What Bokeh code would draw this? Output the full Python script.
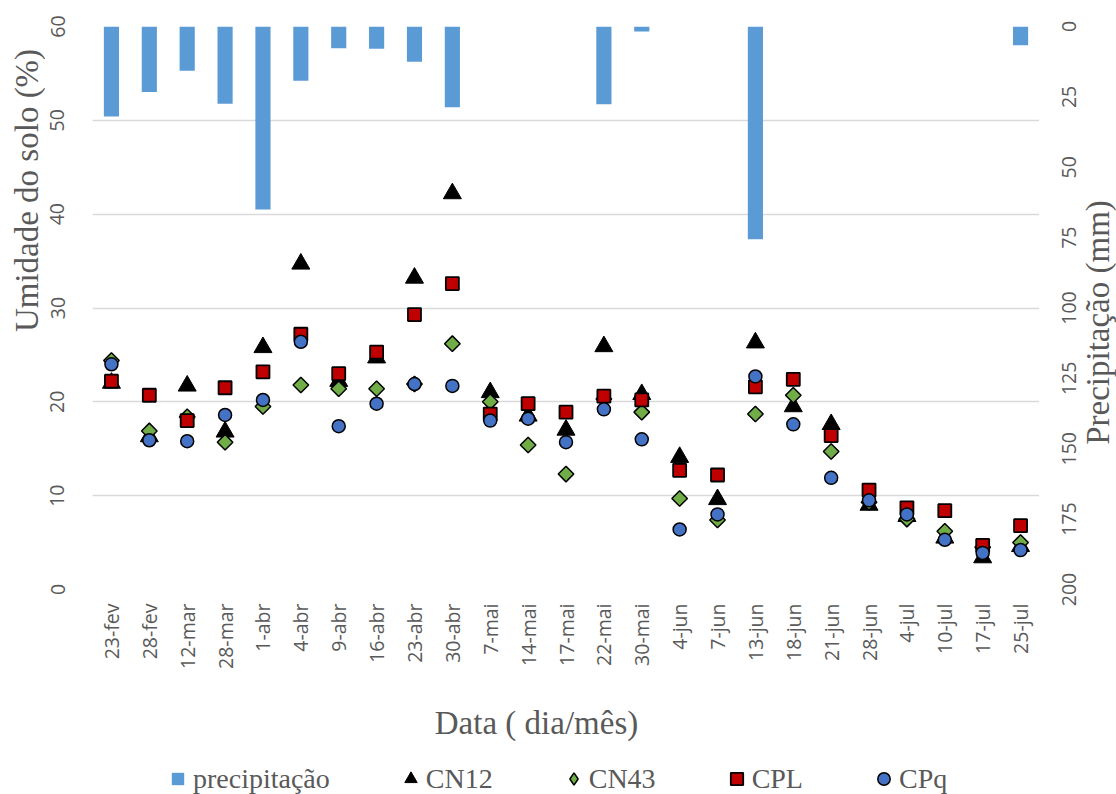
import math

from bokeh.embed import file_html
from bokeh.layouts import column, row
from bokeh.models import (ColumnDataSource, FactorRange, FixedTicker, Label,
                          Legend, LegendItem, Range1d)
from bokeh.plotting import figure
from bokeh.resources import INLINE

# Sampling dates (day-month)
dates = ["23-fev", "28-fev", "12-mar", "28-mar", "1-abr", "4-abr", "9-abr",
         "16-abr", "23-abr", "30-abr", "7-mai", "14-mai", "17-mai", "22-mai",
         "30-mai", "4-jun", "7-jun", "13-jun", "18-jun", "21-jun", "28-jun",
         "4-jul", "10-jul", "17-jul", "25-jul"]

# Rainfall (mm), drawn downward from the top on the right axis
precipitacao = [32.0, 23.3, 15.7, 27.4, 65.0, 19.3, 7.7, 7.9, 12.5, 28.7,
                0, 0, 0, 27.6, 1.8, 0, 0, 75.6, 0, 0, 0, 0, 0, 0, 6.7]

# Soil moisture (%) per treatment
cn12 = [22.0, 16.3, 21.7, 16.8, 25.8, 34.7, 22.2, 24.7, 33.2, 42.2, 21.0,
        18.5, 17.0, 25.9, 20.8, 14.1, 9.6, 26.3, 19.5, 17.6, 9.0, 7.8, 5.5,
        3.4, 4.6]
cn43 = [24.4, 16.9, 18.4, 15.7, 19.5, 21.8, 21.4, 21.4, 21.9, 26.2, 20.0,
        15.4, 12.3, 20.3, 18.9, 9.7, 7.4, 18.7, 20.7, 14.7, 9.3, 7.5, 6.2,
        4.5, 5.0]
cpl = [22.2, 20.7, 18.0, 21.5, 23.2, 27.2, 23.0, 25.3, 29.3, 32.6, 18.7,
       19.8, 18.9, 20.6, 20.2, 12.7, 12.2, 21.6, 22.4, 16.4, 10.6, 8.7, 8.4,
       4.7, 6.8]
cpq = [24.0, 15.9, 15.8, 18.6, 20.2, 26.4, 17.4, 19.8, 21.9, 21.7, 18.0,
       18.2, 15.7, 19.2, 16.0, 6.4, 8.0, 22.7, 17.6, 11.9, 9.5, 8.0, 5.3,
       3.9, 4.2]

moisture_ticks = [0, 10, 20, 30, 40, 50, 60]
rain_ticks = [0, 25, 50, 75, 100, 125, 150, 175, 200]

GREY = "#595959"
SERIF = "Liberation Serif"
SANS = "Open Sans"
TICK_SIZE = "19.5px"
TITLE_SIZE = "33px"

TOP, BOTTOM = 26, 91      # borders around the plotting frame
UPPER_H = 680             # height of the chart row
LOWER_H = 114             # height of the strip with x title and legend

src = ColumnDataSource(dict(date=dates, precip=precipitacao, cn12=cn12,
                            cn43=cn43, cpl=cpl, cpq=cpq))

rain_range = Range1d(start=200, end=0)


def blank(width, height, **borders):
    """A figure with no axes or grid, used to hold text around the chart."""
    f = figure(width=width, height=height, x_range=Range1d(0, 1),
               y_range=Range1d(0, 1), output_backend="svg",
               toolbar_location=None, x_axis_location=None,
               y_axis_location=None, **borders)
    f.outline_line_color = None
    f.grid.visible = False
    return f


def style_axis(ax, standoff, orientation):
    ax.axis_line_color = None
    ax.major_tick_line_color = None
    ax.minor_tick_line_color = None
    ax.major_tick_out = 0
    ax.major_tick_in = 0
    ax.major_label_text_color = GREY
    ax.major_label_text_font = SANS
    ax.major_label_text_font_size = TICK_SIZE
    ax.major_label_orientation = orientation
    ax.major_label_standoff = standoff


title_style = dict(x_units="screen", y_units="screen", text_align="center",
                   text_baseline="middle", text_font=SERIF,
                   text_font_size=TITLE_SIZE, text_color=GREY)

# Left strip: moisture axis title
p0 = blank(45, UPPER_H, min_border_left=0, min_border_right=0,
           min_border_top=TOP, min_border_bottom=BOTTOM)
p0.add_layout(Label(x=26, y=399, text="Umidade do solo (%)",
                    angle=math.pi / 2, **title_style))

# Main panel: moisture scatter + rain bars
p = figure(width=994, height=UPPER_H,
           x_range=FactorRange(factors=dates), y_range=Range1d(0, 60),
           output_backend="svg", toolbar_location=None,
           min_border_left=47, min_border_right=0,
           min_border_top=TOP, min_border_bottom=BOTTOM)
p.extra_y_ranges = {"precip": rain_range}
p.outline_line_color = None
p.xgrid.grid_line_color = None
p.ygrid.grid_line_color = "#D9D9D9"
p.ygrid.grid_line_width = 1.3
p.yaxis.ticker = FixedTicker(ticks=moisture_ticks)
style_axis(p.xaxis[0], 14, math.pi / 2)
style_axis(p.yaxis[0], 28, "vertical")

p.vbar(x="date", top=0, bottom="precip", width=0.4, source=src,
       y_range_name="precip", fill_color="#5B9BD5", line_color=None)
p.scatter(x="date", y="cn12", source=src, marker="triangle", size=18,
          fill_color="black", line_color="black", line_width=1)
p.scatter(x="date", y="cn43", source=src, marker="square",
          angle=math.pi / 4, size=11, fill_color="#70AD47",
          line_color="black", line_width=1.5)
p.scatter(x="date", y="cpl", source=src, marker="square", size=13,
          fill_color="#C00000", line_color="black", line_width=1.8)
p.scatter(x="date", y="cpq", source=src, marker="circle", size=13,
          fill_color="#4472C4", line_color="black", line_width=1.5)

# Right strip: rain axis and its title, reading upward
p2 = figure(width=77, height=UPPER_H, x_range=Range1d(0, 1),
            y_range=rain_range, output_backend="svg", toolbar_location=None,
            x_axis_location=None, y_axis_location="left",
            min_border_left=40, min_border_right=0,
            min_border_top=TOP, min_border_bottom=BOTTOM)
p2.outline_line_color = None
p2.grid.visible = False
p2.yaxis.ticker = FixedTicker(ticks=rain_ticks)
style_axis(p2.yaxis[0], 4, "vertical")
p2.add_layout(Label(x=18, y=267, text="Precipitação (mm)",
                    angle=math.pi / 2, **title_style))

# Bottom strip: x title and legend
p3 = blank(1116, LOWER_H, min_border_left=0, min_border_right=0,
           min_border_top=0, min_border_bottom=0)
p3.add_layout(Label(x=536, y=72, text="Data ( dia/mês)", **title_style))

keys = [
    ("precipitação", dict(marker="square", fill_color="#5B9BD5",
                          line_color=None)),
    ("CN12", dict(marker="triangle", fill_color="black",
                  line_color="black", line_width=1)),
    ("CN43", dict(marker="diamond", fill_color="#70AD47",
                  line_color="black", line_width=1.5)),
    ("CPL", dict(marker="square", fill_color="#C00000",
                 line_color="black", line_width=1.8)),
    ("CPq", dict(marker="circle", fill_color="#4472C4",
                 line_color="black", line_width=1.5)),
]
# Key glyphs carry no visible point; the legend draws their swatches
nan = float("nan")
items = [LegendItem(label=name,
                    renderers=[p3.scatter(x=[nan], y=[nan], **style)])
         for name, style in keys]
legend = Legend(items=items, orientation="horizontal", location=(162, -1),
                glyph_width=31, glyph_height=33, label_height=33,
                label_standoff=0, spacing=65, padding=0, margin=0,
                border_line_color=None, background_fill_alpha=0,
                label_text_font=SERIF, label_text_font_size="28px",
                label_text_color=GREY)
p3.add_layout(legend)

layout = column(row(p0, p, p2), p3)

with open("out.html", "w") as f:
    f.write(file_html(layout, INLINE))
